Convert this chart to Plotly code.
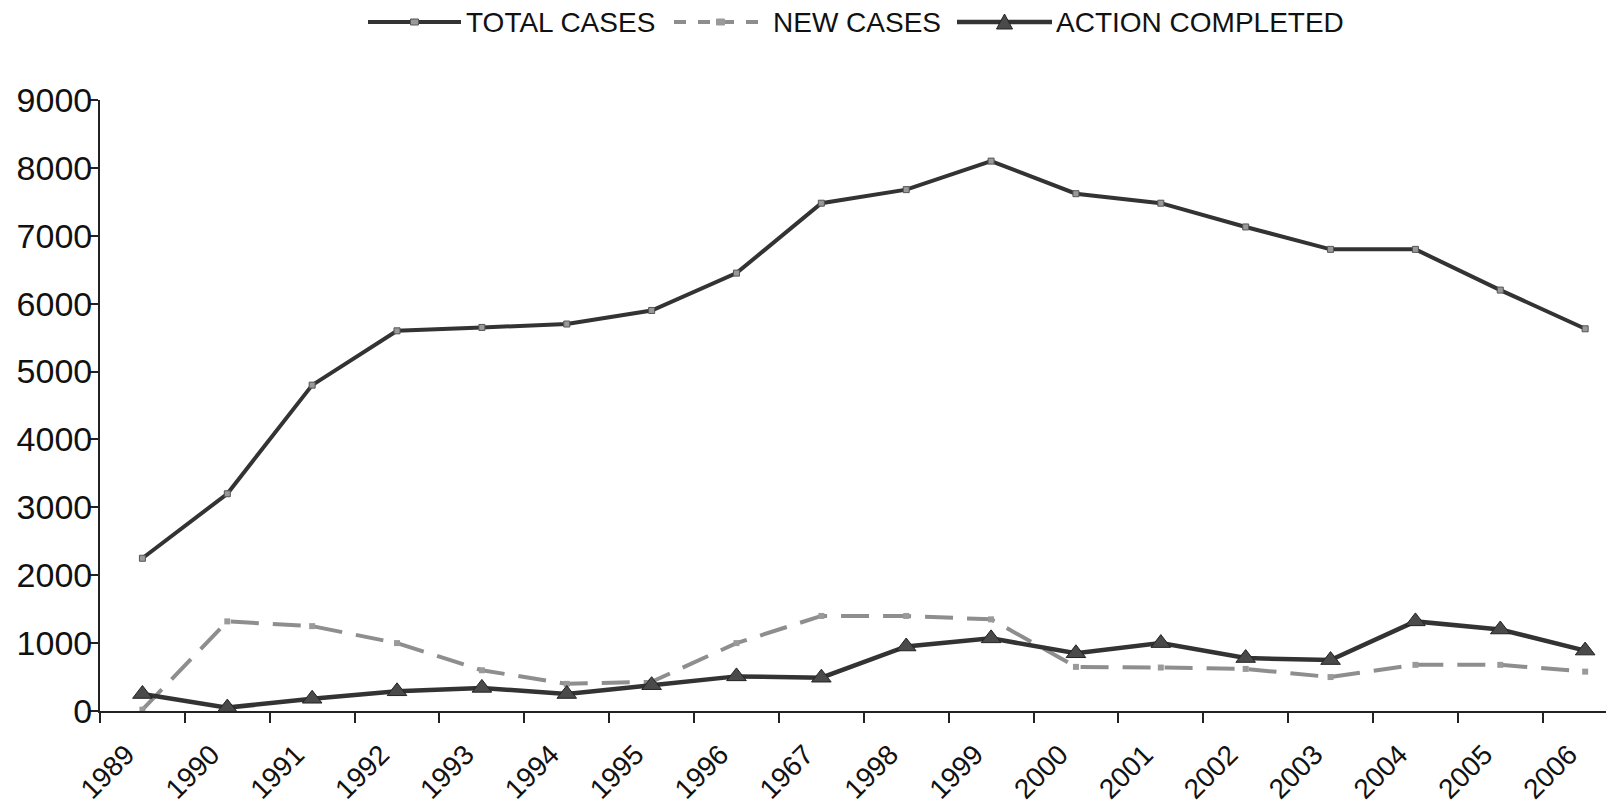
import plotly.graph_objects as go

years = ["1989", "1990", "1991", "1992", "1993", "1994", "1995", "1996", "1967",
         "1998", "1999", "2000", "2001", "2002", "2003", "2004", "2005", "2006"]
total_cases = [2250, 3200, 4800, 5600, 5650, 5700, 5900, 6450, 7480,
               7680, 8100, 7620, 7480, 7130, 6800, 6800, 6200, 5630]
new_cases = [20, 1320, 1250, 1000, 600, 400, 430, 1000, 1400,
             1400, 1350, 650, 640, 620, 500, 680, 680, 580]
action_completed = [250, 50, 180, 290, 340, 250, 380, 510, 490,
                    950, 1070, 850, 1000, 780, 750, 1320, 1200, 890]
y_ticks = [0, 1000, 2000, 3000, 4000, 5000, 6000, 7000, 8000, 9000]
series_names = ["TOTAL CASES", "NEW CASES", "ACTION COMPLETED"]

FONT = "Arial, Liberation Sans, sans-serif"
W, H = 1614, 808
OFF = 8  # default page body margin
# plot area in page pixels
P_LEFT, P_RIGHT, P_TOP, P_BOTTOM = 100, 1614, 100, 711
ML, MT = P_LEFT - OFF, P_TOP - OFF
MR = W - (P_RIGHT - OFF)
MB = H - (P_BOTTOM - OFF)
PW, PH = P_RIGHT - P_LEFT, P_BOTTOM - P_TOP

DARK = "#333333"
GREY = "#8e8e8e"

fig = go.Figure()
fig.add_trace(go.Scatter(
    x=years, y=total_cases, name=series_names[0], mode="lines+markers",
    line=dict(color=DARK, width=4),
    marker=dict(symbol="square", size=6, color="#999999",
                line=dict(color="#555555", width=1)),
))
fig.add_trace(go.Scatter(
    x=years, y=new_cases, name=series_names[1], mode="lines+markers",
    line=dict(color=GREY, width=4, dash="28px,14px"),
    marker=dict(symbol="square", size=6, color="#9a9a9a"),
))
fig.add_trace(go.Scatter(
    x=years, y=action_completed, name=series_names[2], mode="lines+markers",
    line=dict(color=DARK, width=4.5),
    marker=dict(symbol="triangle-up", size=17, color="#4a4a4a",
                line=dict(color="#222222", width=1)),
))


# legend drawn at top (page pixel layout converted to paper coordinates)
def px(xp):
    return (xp - P_LEFT) / PW


def py(yp):
    return (P_BOTTOM - yp) / PH


leg_y = 22
leg_items = [
    # (line start, line end, text start)
    (368, 461, 465),
    (674, 767, 772),
    (957, 1052, 1055),
]
styles = [dict(color=DARK, width=4), dict(color=GREY, width=4, dash="dash"),
          dict(color=DARK, width=4.5)]
shapes = []
annotations = []
for (x0, x1, xt), name, st in zip(leg_items, series_names, styles):
    shapes.append(dict(type="line", xref="paper", yref="paper",
                       x0=px(x0), x1=px(x1), y0=py(leg_y), y1=py(leg_y), line=st))
    annotations.append(dict(text=name, xref="paper", yref="paper", x=px(xt), y=py(leg_y),
                            xanchor="left", yanchor="middle", showarrow=False,
                            height=26, valign="middle", borderpad=0,
                            font=dict(family=FONT, size=28, color="#111111")))
# legend markers
xm = (leg_items[0][0] + leg_items[0][1]) / 2
shapes.append(dict(type="rect", xref="paper", yref="paper",
                   x0=px(xm - 4), x1=px(xm + 4), y0=py(leg_y + 3), y1=py(leg_y - 3),
                   fillcolor="#999999", line=dict(color="#555555", width=1)))
xm = (leg_items[1][0] + leg_items[1][1]) / 2
shapes.append(dict(type="rect", xref="paper", yref="paper",
                   x0=px(xm - 4), x1=px(xm + 4), y0=py(leg_y + 3), y1=py(leg_y - 3),
                   fillcolor="#9a9a9a", line=dict(color="#9a9a9a", width=1)))
xm = (leg_items[2][0] + leg_items[2][1]) / 2
shapes.append(dict(type="path", xref="paper", yref="paper",
                   path="M {a},{b} L {c},{b} L {d},{e} Z".format(
                       a=px(xm - 8), b=py(leg_y + 7), c=px(xm + 8), d=px(xm), e=py(leg_y - 8)),
                   fillcolor="#4a4a4a", line=dict(color="#222222", width=1)))

fig.update_layout(
    width=W, height=H,
    margin=dict(l=ML, r=MR, t=MT, b=MB, autoexpand=False),
    paper_bgcolor="white", plot_bgcolor="white",
    font=dict(family=FONT, size=28, color="#111111"),
    showlegend=False,
    shapes=shapes, annotations=annotations,
    xaxis=dict(
        type="category", categoryorder="array", categoryarray=years,
        range=[-0.5, 17.34], tickangle=-45, tickson="boundaries",
        automargin=False,
        showgrid=False, zeroline=False,
        showline=True, linecolor="#222222", linewidth=2,
        ticks="outside", ticklen=10, tickcolor="#222222", tickwidth=1.5,
        ticklabelstandoff=14, ticklabelshift=-16,
        tickfont=dict(family=FONT, size=28, color="#111111"),
    ),
    yaxis=dict(
        range=[0, 9000], tickvals=y_ticks, automargin=False,
        showgrid=False, zeroline=False,
        showline=True, linecolor="#222222", linewidth=2,
        ticks="outside", ticklen=8, tickcolor="#222222", tickwidth=1.5,
        ticklabelstandoff=-9,
        tickfont=dict(family=FONT, size=34, color="#111111"),
    ),
)

fig.write_html("out.html")
